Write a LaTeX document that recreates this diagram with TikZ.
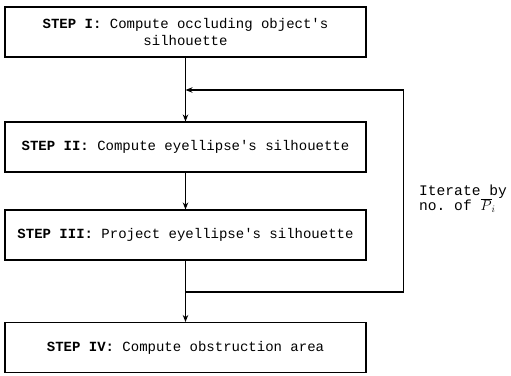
\documentclass[tikz,border=0pt]{standalone}
\usepackage{fontspec}
\setmonofont{Liberation Mono}
\usepackage{tikz}
\usetikzlibrary{arrows.meta}

\tikzset{
  stepbox/.style={draw,line width=1.1bp,minimum width=361bp,minimum height=50bp,
    inner sep=0pt,align=center,font=\ttfamily\fontsize{14bp}{17bp}\selectfont},
  flow/.style={line width=1.1bp,-{Stealth[length=7bp,width=5.5bp]}},
}

\begin{document}
\begin{tikzpicture}[x=1bp,y=-1bp]
    \useasboundingbox (0,0) rectangle (511,375);

    \node[stepbox] (StI) at (185.5,32) {\textbf{STEP I:} Compute occluding object's\\silhouette};
    \node[stepbox] (StII) at (185.5,147) {\textbf{STEP II:} Compute eyellipse's silhouette};
    \node[stepbox] (StIII) at (185.5,235) {\textbf{STEP III:} Project eyellipse's silhouette};
    \node[stepbox] (StIV) at (185.5,347.5) {\textbf{STEP IV:} Compute obstruction area};

    \node[align=left,anchor=west,inner sep=0pt,font=\ttfamily\fontsize{14.6bp}{15bp}\selectfont] (Iter) at (419,199) {Iterate by\\no. of $\overline{P}_{i}$};

    \coordinate (LoTo) at (185.5,90);
    \coordinate (LoBo) at (185.5,292);

    \draw[flow] (StI) to (StII);
    \draw[flow] (StII) to (StIII);
    \draw[flow] (StIII) to (StIV);

    % iteration loop back above step II
    \draw[flow] (LoBo) -- ++(218,0) |- (LoTo);

\end{tikzpicture}
\end{document}
